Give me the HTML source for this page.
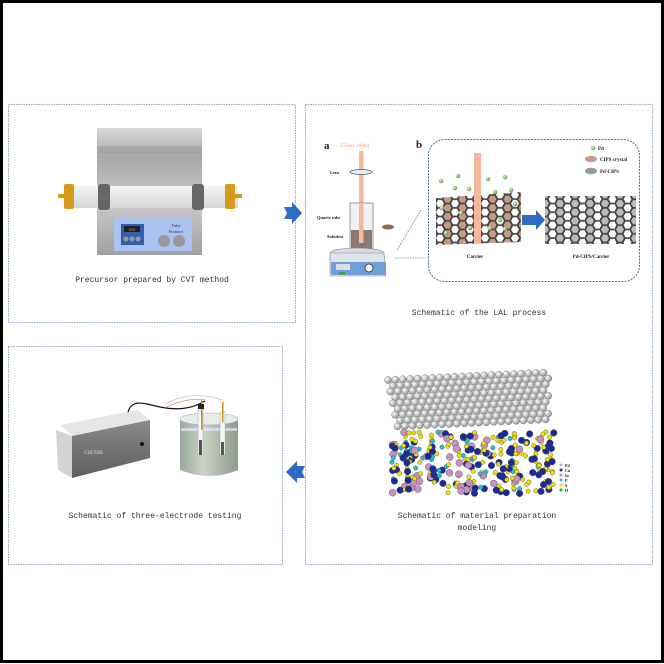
<!DOCTYPE html>
<html><head><meta charset="utf-8"><style>
html,body{margin:0;padding:0;background:#fff}
svg{display:block}
.m{font-family:"Liberation Mono",monospace;font-size:8px;fill:#333}
.s{font-family:"Liberation Serif",serif;font-weight:bold;fill:#222}
</style></head><body>
<svg id="s" width="664" height="664" viewBox="0 0 664 664" xmlns="http://www.w3.org/2000/svg">
<defs>
<linearGradient id="gcov" x1="0" y1="0" x2="0" y2="1"><stop offset="0" stop-color="#d8d8d8"/><stop offset="0.5" stop-color="#a8a8a8"/><stop offset="1" stop-color="#bdbdbd"/></linearGradient>
<linearGradient id="gbody" x1="0" y1="0" x2="0" y2="1"><stop offset="0" stop-color="#d0d0d0"/><stop offset="1" stop-color="#a0a0a0"/></linearGradient>
<linearGradient id="gtube" x1="0" y1="0" x2="0" y2="1"><stop offset="0" stop-color="#f4f4f4"/><stop offset="1" stop-color="#d6d6d6"/></linearGradient>
<linearGradient id="gbk" x1="0" y1="0" x2="1" y2="0"><stop offset="0" stop-color="#9aa89a"/><stop offset="0.4" stop-color="#c9d3c6"/><stop offset="1" stop-color="#8e9a8c"/></linearGradient>
<linearGradient id="gdev" x1="0" y1="0" x2="0" y2="1"><stop offset="0" stop-color="#8a8a8a"/><stop offset="1" stop-color="#5e5e5e"/></linearGradient>
<radialGradient id="ggray" cx="0.35" cy="0.35" r="0.7"><stop offset="0" stop-color="#fff"/><stop offset="1" stop-color="#8a8a8a"/></radialGradient>
<radialGradient id="gpd" cx="0.35" cy="0.35" r="0.7"><stop offset="0" stop-color="#e6f5d0"/><stop offset="1" stop-color="#5c9a3a"/></radialGradient>
<pattern id="hex1" width="15" height="8.66" patternUnits="userSpaceOnUse">
<rect width="15" height="8.66" fill="#c79a86"/>
<path d="M0,4.33 L2.5,0 L7.5,0 L10,4.33 L7.5,8.66 L2.5,8.66 Z" fill="#fff"/>
<path d="M0,4.33 L2.5,0 L7.5,0 L10,4.33 L7.5,8.66 L2.5,8.66 Z M10,4.33 L15,4.33" fill="none" stroke="#444" stroke-width="1.8"/>
</pattern>
<pattern id="hex2" width="15" height="8.66" patternUnits="userSpaceOnUse">
<rect width="15" height="8.66" fill="#fff"/>
<path d="M0,4.33 L2.5,0 L7.5,0 L10,4.33 L7.5,8.66 L2.5,8.66 Z" fill="#bbb"/>
<path d="M0,4.33 L2.5,0 L7.5,0 L10,4.33 L7.5,8.66 L2.5,8.66 Z M10,4.33 L15,4.33" fill="none" stroke="#444" stroke-width="1.8"/>
</pattern>
</defs>
<rect x="0" y="0" width="664" height="664" fill="#fff"/>
<rect x="1.5" y="1.5" width="661" height="660" fill="none" stroke="#000" stroke-width="3"/>

<g fill="none" stroke="#8fa6cf" stroke-width="1" stroke-dasharray="1.5,1">
<rect x="8.5" y="104.5" width="287" height="218"/>
<rect x="305.5" y="104.5" width="347" height="460"/>
<rect x="8.5" y="346.5" width="274" height="218"/>
</g>

<path d="M284,207 L292,207 L292,202 L302,213 L292,224 L292,219 L284,219 L287,213 Z" fill="#2f6bc4"/>
<path d="M305,466 L297,466 L297,461 L286,472 L297,483 L297,478 L305,478 L302,472 Z" fill="#2f6bc4"/>

<!-- furnace -->
<path d="M97,128 L202,128 L202,186 L97,186 Z" fill="url(#gcov)"/>
<rect x="97" y="146" width="105" height="8" fill="#9c9c9c" opacity="0.5"/>
<rect x="97" y="196" width="105" height="59" fill="url(#gbody)"/>
<rect x="72" y="186" width="166" height="22" fill="url(#gtube)"/>
<rect x="98" y="184" width="12" height="26" rx="3" fill="#666"/>
<rect x="192" y="184" width="12" height="26" rx="3" fill="#666"/>
<rect x="64" y="184" width="10" height="25" rx="2" fill="#d89a1c"/>
<rect x="58" y="194" width="8" height="4" fill="#d89a1c"/>
<rect x="225" y="184" width="10" height="25" rx="2" fill="#d89a1c"/>
<rect x="234" y="194" width="8" height="4" fill="#d89a1c"/>
<rect x="114" y="218" width="78" height="33" fill="#a9c2f2"/>
<rect x="121" y="224" width="23" height="21" fill="#2f5fb0"/>
<rect x="124" y="226" width="16" height="6" fill="#222"/>
<text x="132" y="231" font-size="4" fill="#d84" text-anchor="middle" font-family="Liberation Sans">800</text>
<circle cx="126" cy="239" r="2.5" fill="#999"/><circle cx="132" cy="239" r="2.5" fill="#999"/><circle cx="138" cy="239" r="2.5" fill="#999"/>
<text x="176" y="227" font-size="4.5" fill="#334" text-anchor="middle" font-family="Liberation Serif">Tube</text>
<text x="176" y="233" font-size="4.5" fill="#334" text-anchor="middle" font-family="Liberation Serif">Furnace</text>
<circle cx="164" cy="241" r="6" fill="#999"/><circle cx="179" cy="241" r="6" fill="#999"/>
<text x="152" y="282" class="m" text-anchor="middle">Precursor prepared by CVT method</text>

<!-- LAL a -->
<text x="324" y="149" class="s" font-size="11">a</text>
<text x="340" y="147" font-size="5" fill="#f0a080" font-family="Liberation Serif">355nm, 100mj</text>
<rect x="359" y="151" width="4.5" height="90" fill="#f5b89c"/>
<ellipse cx="361" cy="172" rx="11" ry="2.5" fill="#e8eef8" stroke="#556" stroke-width="0.8"/>
<text x="330" y="174" font-size="4.5" class="s">Lens</text>
<rect x="350" y="203" width="23" height="47" fill="#eef0f2" stroke="#777" stroke-width="0.8" opacity="0.9"/>
<rect x="351" y="230" width="21" height="19" fill="#8a7a70"/>
<rect x="359" y="203" width="4.5" height="40" fill="#f5b89c"/>
<text x="317" y="219" font-size="4.5" class="s">Quartz tube</text>
<text x="327" y="238" font-size="4.5" class="s">Solution</text>
<ellipse cx="388" cy="227" rx="6" ry="2.5" fill="#8a6a5a"/>
<ellipse cx="357" cy="253" rx="27" ry="5" fill="#d8dde4" stroke="#888" stroke-width="0.6"/>
<path d="M330,253 L384,253 L386,276 L330,276 Z" fill="#dfe3ea" stroke="#888" stroke-width="0.6"/>
<rect x="331" y="262" width="55" height="13" fill="#6f9ed8"/>
<rect x="336" y="264" width="14" height="6" fill="#dde"/>
<rect x="339" y="272" width="6" height="2.5" fill="#3a3"/>
<circle cx="369" cy="268" r="4" fill="#fff" stroke="#333" stroke-width="0.8"/>
<path d="M397,250 L421,210" stroke="#6b86c0" stroke-width="0.8" stroke-dasharray="2,1"/>
<path d="M395,258 L426,258" stroke="#6b86c0" stroke-width="0.8" stroke-dasharray="1.5,1"/>
<text x="416" y="148" class="s" font-size="11">b</text>
<rect x="428.5" y="139.5" width="211" height="142" rx="16" fill="none" stroke="#4a6ab0" stroke-width="1" stroke-dasharray="2,1.2"/>
<circle cx="593" cy="148" r="2.3" fill="url(#gpd)"/><text x="598" y="150" font-size="5" class="s">Pd</text>
<ellipse cx="591" cy="159" rx="6" ry="3.2" fill="#c99a86"/><text x="600" y="161" font-size="5" class="s">CIPS crystal</text>
<ellipse cx="591" cy="171" rx="6" ry="3.2" fill="#999"/><text x="600" y="173" font-size="5" class="s">Pd-CIPS</text>
<polygon points="436,198 521,192 521,242 436,245" fill="url(#hex1)"/>
<rect x="474" y="153" width="7" height="90" fill="#f5b89c"/>
<polygon points="545,196 636,196 636,244 545,244" fill="url(#hex2)"/>
<path d="M522,215 L536,215 L536,210 L545,220 L536,230 L536,225 L522,225 Z" fill="#2f6bc4"/>
<g id="pdots"></g>
<text x="475" y="258" font-size="5" class="s" text-anchor="middle">Carrier</text>
<text x="591" y="258" font-size="5" class="s" text-anchor="middle">Pd-CIPS/Carrier</text>
<text x="479" y="315" class="m" text-anchor="middle">Schematic of the LAL process</text>

<!-- molecular -->
<g id="mol"></g>
<g font-size="4" class="s">
<circle cx="561" cy="465" r="1.5" fill="#bbb"/><text x="565" y="467">Pd</text>
<circle cx="561" cy="470" r="1.5" fill="#1a2a9a"/><text x="565" y="472">Cu</text>
<circle cx="561" cy="475" r="1.5" fill="#c890c0"/><text x="565" y="477">In</text>
<circle cx="561" cy="480" r="1.5" fill="#20c0d8"/><text x="565" y="482">P</text>
<circle cx="561" cy="485" r="1.5" fill="#f0e000"/><text x="565" y="487">S</text>
<circle cx="561" cy="490" r="1.5" fill="#2a2"/><text x="565" y="492">H</text>
</g>
<text x="477" y="518" class="m" text-anchor="middle">Schematic of material preparation</text>
<text x="477" y="530" class="m" text-anchor="middle">modeling</text>

<!-- electrochem -->
<path d="M60,425 L138,410 L150,420 L72,436 Z" fill="#e6e6e6"/>
<path d="M56,430 L72,436 L72,478 L58,470 Z" fill="#d4d4d4"/>
<path d="M72,436 L150,420 L150,458 L72,478 Z" fill="url(#gdev)"/>
<text x="84" y="454" font-size="5" fill="#ddd" font-family="Liberation Serif">CHI760E</text>
<circle cx="142" cy="444" r="2" fill="#111"/>
<path d="M128,412 C132,400 140,402 160,407 C175,410 190,410 205,401" stroke="#111" stroke-width="1.2" fill="none"/>
<path d="M165,408 C180,400 195,398 205,400" stroke="#d44" stroke-width="0.6" fill="none"/>
<path d="M165,404 C180,396 200,392 222,400" stroke="#aaa" stroke-width="0.6" fill="none"/>
<path d="M180,419 L180,470 Q210,482 238,470 L238,419 Z" fill="url(#gbk)"/>
<ellipse cx="209" cy="419" rx="29" ry="6" fill="#e8ece8" stroke="#aab" stroke-width="0.6"/>
<rect x="181" y="428" width="56" height="3" fill="#eef" opacity="0.6"/>
<rect x="198" y="410" width="5" height="45" fill="#f6f6f6" stroke="#999" stroke-width="0.4"/>
<rect x="199" y="440" width="3" height="15" fill="#555"/>
<rect x="201" y="400" width="1.5" height="30" fill="#c89020"/>
<rect x="198" y="404" width="6" height="5" fill="#222"/>
<rect x="220" y="412" width="5" height="43" fill="#f6f6f6" stroke="#999" stroke-width="0.4"/>
<rect x="221" y="442" width="3" height="13" fill="#555"/>
<rect x="222" y="402" width="1.5" height="20" fill="#c89020"/>
<text x="155" y="518" class="m" text-anchor="middle">Schematic of three-electrode testing</text>
</svg>
<script>
(function(){
var NS="http://www.w3.org/2000/svg";
function c(g,x,y,r,f,s){var e=document.createElementNS(NS,"circle");e.setAttribute("cx",x);e.setAttribute("cy",y);e.setAttribute("r",r);e.setAttribute("fill",f);if(s){e.setAttribute("stroke",s);e.setAttribute("stroke-width","0.4");}g.appendChild(e);}
var seed=7;function rnd(){seed=(seed*9301+49297)%233280;return seed/233280;}
var m=document.getElementById("mol");
for(var row=0;row<9;row++){for(var col=0;col<22;col++){
 var x=388+col*7.4+(row%2)*3.7+row*1.2, y=380+row*5.8-col*0.35;
 if(x>550)continue; c(m,x,y,3.6,"url(#ggray)","#777");}}
var cols=["#1a2a9a","#f0e000","#f0e000","#20c0d8","#c890c0","#f0e000","#1a2a9a"];
for(var i=0;i<300;i++){var x=392+rnd()*162,y=432+rnd()*62;var k=cols[Math.floor(rnd()*cols.length)];
 var r=k=="#1a2a9a"?3.3:(k=="#c890c0"?3.5:2.2);c(m,x,y,r,k,"#444");}
var p=document.getElementById("pdots");
var pts=[[441,181],[458,176],[455,188],[469,189],[488,179],[505,177],[495,192],[511,190],[442,208],[461,213],[500,220],[490,228],[470,228],[505,229],[446,233],[515,204]];
pts.forEach(function(q){c(p,q[0],q[1],2.3,"url(#gpd)");});
})();
</script>
</body></html>
